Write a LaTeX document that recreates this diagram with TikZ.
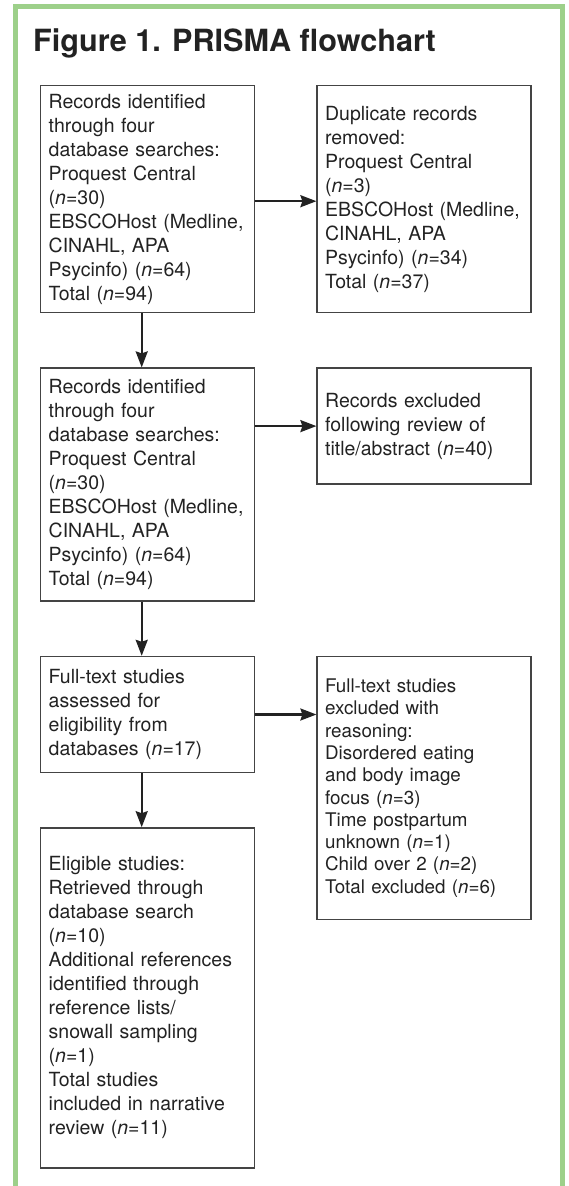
\documentclass[tikz,border=0pt]{standalone}
\usepackage{fontspec}
\setmainfont{TeX Gyre Heros}
\usetikzlibrary{arrows.meta,positioning}
\definecolor{framegreen}{HTML}{9DD08A}
\definecolor{inkgrey}{HTML}{222222}
\definecolor{boxgrey}{HTML}{444444}
\newcommand{\nsym}{\textit{n}}
\tikzset{
  box/.style        = {draw=boxgrey, line width=1.4pt, text=inkgrey, text width=198pt,
                       inner xsep=8pt, inner ysep=4pt, align=left,
                       font=\fontsize{19.5pt}{24pt}\selectfont},
  boxsm/.style      = {box, font=\fontsize{18.8pt}{22.3pt}\selectfont},
  sig/.style        = {-{Stealth[length=16pt, width=12pt, inset=2pt]}, line width=2.2pt, draw=inkgrey},
  frame/.style      = {draw=framegreen, line width=5pt},
  title/.style      = {font=\fontsize{30.6pt}{36pt}\selectfont\bfseries, text=inkgrey, inner sep=0pt},
  node distance     = 54pt and 61pt,
}

\begin{document}
\begin{tikzpicture}
  \useasboundingbox (0,0) rectangle (569pt,-1186pt);
  \draw[frame] (15pt,-1190pt) |- (562pt,-6.5pt) -- (562pt,-1190pt);
  \node[title, anchor=base west] (head) at (33pt,-51pt) {Figure 1. PRISMA flowchart};
  % main column
  \node[box, anchor=north west, minimum height=227pt] (rec) at (40pt,-85pt)
    {Records identified\\through four\\database searches:\\Proquest Central\\(\nsym=30)\\EBSCOHost (Medline,\\CINAHL, APA\\Psycinfo) (\nsym=64)\\Total (\nsym=94)};
  \node[box, below=of rec, minimum height=233pt] (screen)
    {Records identified\\through four\\database searches:\\Proquest Central\\(\nsym=30)\\EBSCOHost (Medline,\\CINAHL, APA\\Psycinfo) (\nsym=64)\\Total (\nsym=94)};
  \node[box, below=of screen, minimum height=116pt] (full)
    {Full-text studies\\assessed for\\eligibility from\\databases (\nsym=17)};
  \node[box, below=of full, minimum height=340pt] (incl)
    {Eligible studies:\\Retrieved through\\database search\\(\nsym=10)\\Additional references\\identified through\\reference lists/\\snowall sampling\\(\nsym=1)\\Total studies\\included in narrative\\review (\nsym=11)};
  % exclusions
  \node[box, right=of rec, minimum height=227pt] (dup)
    {Duplicate records\\removed:\\Proquest Central\\(\nsym=3)\\EBSCOHost (Medline,\\CINAHL, APA\\Psycinfo) (\nsym=34)\\Total (\nsym=37)};
  \node[box, right=of screen.north east, anchor=north west, minimum height=116pt] (excl)
    {Records excluded\\following review of\\title/abstract (\nsym=40)};
  \node[boxsm, right=of full.north east, anchor=north west, minimum height=263pt] (fexcl)
    {Full-text studies\\excluded with\\reasoning:\\Disordered eating\\and body image\\focus (\nsym=3)\\Time postpartum\\unknown (\nsym=1)\\Child over 2 (\nsym=2)\\Total excluded (\nsym=6)};
  \draw[sig] ([xshift=-6pt]rec.south) -- ([xshift=-6pt]screen.north);
  \draw[sig] ([xshift=-6pt]screen.south) -- ([xshift=-6pt]full.north);
  \draw[sig] ([xshift=-6pt]full.south) -- ([xshift=-6pt]incl.north);
  \draw[sig] ([yshift=-2pt]rec.east) -- ([yshift=-2pt]dup.west);
  \draw[sig] (screen.east |- excl.west) -- (excl.west);
  \draw[sig] (full.east) -- (full.east -| fexcl.west);
\end{tikzpicture}
\end{document}
